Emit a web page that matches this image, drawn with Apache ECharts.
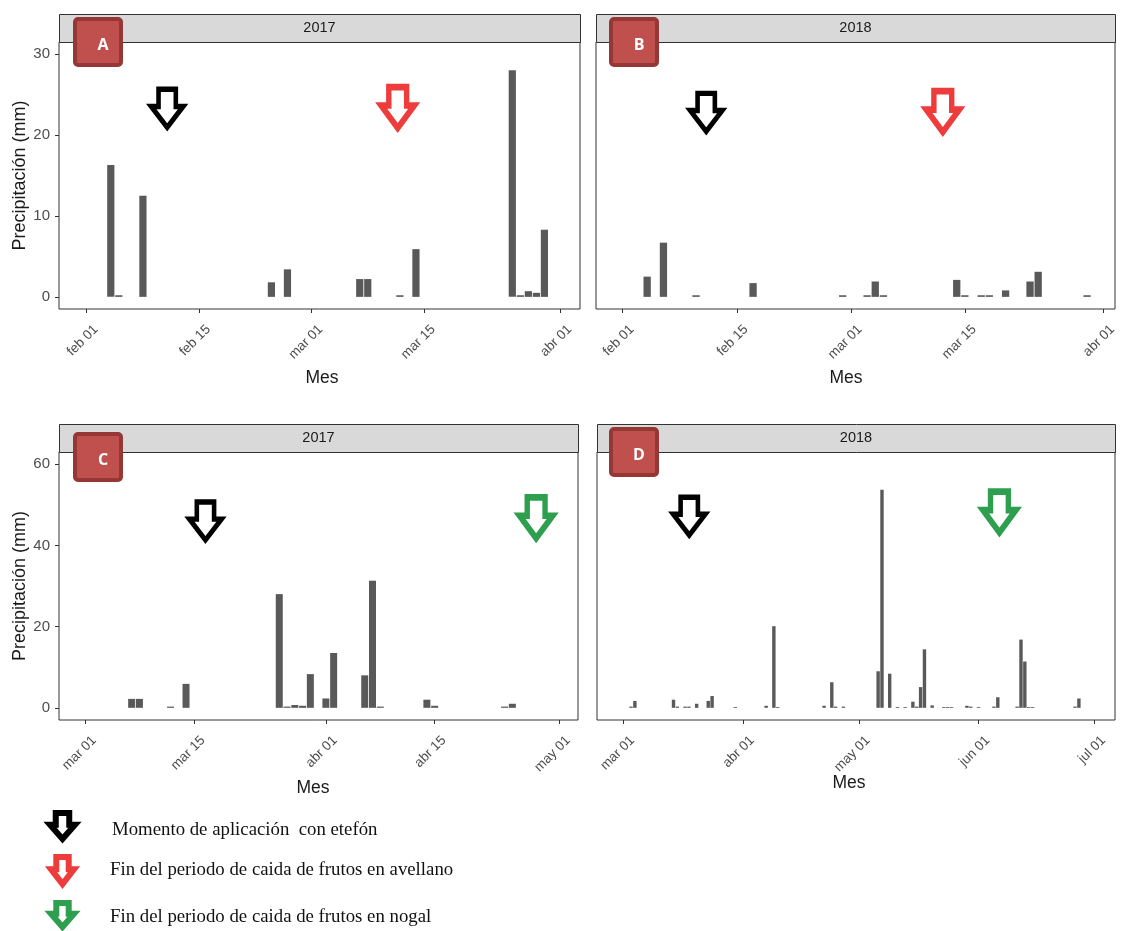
<!DOCTYPE html>
<html><head><meta charset="utf-8">
<script src="https://cdn.jsdelivr.net/npm/echarts@6/dist/echarts.min.js"></script>
<style>html,body{margin:0;padding:0;background:#fff}#c{width:1128px;height:931px}</style>
</head><body><div id="c"></div>
<script>
// ---------- data ----------
const monthNames = ['ene','feb','mar','abr','may','jun','jul','ago','sep','oct','nov','dic'];

const A_dates = ['2017-02-04','2017-02-05','2017-02-08','2017-02-24','2017-02-26','2017-03-07','2017-03-08','2017-03-12','2017-03-14','2017-03-26','2017-03-27','2017-03-28','2017-03-29','2017-03-30'];
const A_vals  = [16.3,0.2,12.5,1.8,3.4,2.2,2.2,0.2,5.9,28.0,0.2,0.7,0.5,8.3];

const B_dates = ['2018-02-04','2018-02-06','2018-02-10','2018-02-17','2018-02-28','2018-03-03','2018-03-04','2018-03-05','2018-03-14','2018-03-15','2018-03-17','2018-03-18','2018-03-20','2018-03-23','2018-03-24','2018-03-30'];
const B_vals  = [2.5,6.7,0.2,1.7,0.2,0.2,1.9,0.2,2.1,0.2,0.2,0.2,0.8,1.9,3.1,0.2];

const C_dates = ['2017-03-07','2017-03-08','2017-03-12','2017-03-14','2017-03-26','2017-03-27','2017-03-28','2017-03-29','2017-03-30','2017-04-01','2017-04-02','2017-04-06','2017-04-07','2017-04-08','2017-04-14','2017-04-15','2017-04-24','2017-04-25'];
const C_vals  = [2.2,2.2,0.3,5.9,28.0,0.3,0.7,0.5,8.3,2.3,13.5,8.0,31.3,0.3,2.0,0.5,0.3,1.0];

const D_dates = ['2018-03-03','2018-03-04','2018-03-14','2018-03-15','2018-03-17','2018-03-18','2018-03-20','2018-03-23','2018-03-24','2018-03-30','2018-04-07','2018-04-09','2018-04-10','2018-04-22','2018-04-24','2018-04-25','2018-04-27','2018-05-06','2018-05-07','2018-05-09','2018-05-11','2018-05-13','2018-05-15','2018-05-16','2018-05-17','2018-05-18','2018-05-20','2018-05-23','2018-05-24','2018-05-25','2018-05-29','2018-05-30','2018-06-01','2018-06-05','2018-06-06','2018-06-11','2018-06-12','2018-06-13','2018-06-14','2018-06-15','2018-06-26','2018-06-27'];
const D_vals  = [0.3,1.7,2.0,0.3,0.3,0.3,1.0,1.7,2.9,0.2,0.5,20.1,0.2,0.5,6.3,0.3,0.3,9.0,53.7,8.4,0.2,0.2,1.5,0.3,5.1,14.4,0.6,0.2,0.2,0.2,0.5,0.3,0.2,0.3,2.6,0.3,16.8,11.4,0.2,0.2,0.3,2.3];

const A_ticks = ['2017-02-01','2017-02-15','2017-03-01','2017-03-15','2017-04-01'];
const B_ticks = ['2018-02-01','2018-02-15','2018-03-01','2018-03-15','2018-04-01'];
const C_ticks = ['2017-03-01','2017-03-15','2017-04-01','2017-04-15','2017-05-01'];
const D_ticks = ['2018-03-01','2018-04-01','2018-05-01','2018-06-01','2018-07-01'];
const yTicksTop = [0,10,20,30];
const yTicksBottom = [0,20,40,60];

const stripTitles = ['2017','2018','2017','2018'];
const panelLetters = ['A','B','C','D'];

// annotation arrows: [date, height (mm), kind]
const A_arrows = [['2017-02-11 00:30', 23.3, 'black'], ['2017-03-11 17:30', 23.4, 'red']];
const B_arrows = [['2018-02-11 06:00', 22.8, 'black'], ['2018-03-12 07:00', 22.9, 'red']];
const C_arrows = [['2017-03-16 12:00', 46.0, 'black'], ['2017-04-28 01:30', 46.8, 'green']];
const D_arrows = [['2018-03-18 02:00', 47.2, 'black'], ['2018-06-06 10:00', 48.2, 'green']];

const legendTexts = ['Momento de aplicación  con etefón', 'Fin del periodo de caida de frutos en avellano', 'Fin del periodo de caida de frutos en nogal'];
const legendKinds = ['black','red','green'];

// ---------- helpers ----------
const DAY = 86400000;
function ts(s){
  const parts = s.split(' ');
  const [y,m,d] = parts[0].split('-').map(Number);
  let h=0, mi=0;
  if (parts[1]) { [h,mi] = parts[1].split(':').map(Number); }
  return new Date(y, m-1, d, h, mi).getTime();
}
function fmt(v){
  const d = new Date(v);
  return monthNames[d.getMonth()] + ' ' + String(d.getDate()).padStart(2,'0');
}
const SANS = "'Liberation Sans', Arial, sans-serif";
const arrowColors = {black:'#000000', red:'#EE3B3B', green:'#2E9E4F'};
const arrowPath = 'path://M23,0L77,0L77,45L100,45L50,100L0,45L23,45Z';

const panels = [
  {dates:A_dates, vals:A_vals, ticks:A_ticks, yt:yTicksTop, arrows:A_arrows,
   grid:{left:59, top:42, width:521, height:267}, x0:'2017-02-01', dmin:-3.45, dmax:61.43, ymin:-1.5, ymax:31.5, bw:7.2, ylab:true,
   box:{x:73, y:17}, mes:{x:322, y:378}},
  {dates:B_dates, vals:B_vals, ticks:B_ticks, yt:yTicksTop, arrows:B_arrows,
   grid:{left:596, top:42, width:519, height:267}, x0:'2018-02-01', dmin:-3.28, dmax:60.43, ymin:-1.5, ymax:31.5, bw:7.3, ylab:false,
   box:{x:609, y:17}, mes:{x:846, y:378}},
  {dates:C_dates, vals:C_vals, ticks:C_ticks, yt:yTicksBottom, arrows:C_arrows,
   grid:{left:59, top:452, width:519, height:268}, x0:'2017-03-01', dmin:-3.35, dmax:63.45, ymin:-3, ymax:63, bw:7.0, ylab:true,
   box:{x:73, y:432}, mes:{x:313, y:788}},
  {dates:D_dates, vals:D_vals, ticks:D_ticks, yt:yTicksBottom, arrows:D_arrows,
   grid:{left:597, top:452, width:518, height:268}, x0:'2018-03-01', dmin:-6.81, dmax:127.35, ymin:-3, ymax:63, bw:3.4, ylab:false,
   box:{x:609, y:427}, mes:{x:849, y:783}}
];

const grids = [], xAxes = [], yAxes = [], series = [], graphics = [];
const TXT = '#4D4D4D';

panels.forEach((p, i) => {
  grids.push(Object.assign({show:true, borderColor:'#333333', borderWidth:1, backgroundColor:'#ffffff', containLabel:false}, p.grid));
  const base = ts(p.x0);
  const tickVals = p.ticks.map(ts);
  xAxes.push({
    type:'value', gridIndex:i, position:'bottom', min: base + p.dmin*DAY, max: base + p.dmax*DAY,
    axisLine:{show:false, onZero:false},
    axisTick:{show:true, length:4, customValues:tickVals, lineStyle:{color:'#333333'}},
    axisLabel:{show:true, customValues:tickVals, rotate:45, margin:9, verticalAlign:'top', padding:[6,0,0,0],
      color:TXT, fontSize:13.5, fontFamily:SANS, formatter: fmt},
    splitLine:{show:false}
  });
  yAxes.push({
    type:'value', gridIndex:i, position:'left', min:p.ymin, max:p.ymax,
    name: p.ylab ? 'Precipitación (mm)' : '',
    nameLocation:'middle', nameGap:28,
    nameTextStyle:{fontSize:18, color:'#1A1A1A', fontFamily:SANS},
    axisLine:{show:false, onZero:false},
    axisTick:{show:p.ylab, length:4, customValues:p.yt, lineStyle:{color:'#333333'}},
    axisLabel:{show:p.ylab, customValues:p.yt, margin:9, color:TXT, fontSize:15, fontFamily:SANS},
    splitLine:{show:false}
  });
  series.push({
    type:'bar', xAxisIndex:i, yAxisIndex:i, barWidth:p.bw, silent:true,
    itemStyle:{color:'#595959'},
    data: p.dates.map((d,k) => [ts(d), p.vals[k]]),
    markPoint:{
      silent:true,
      data: p.arrows.map(a => ({
        coord:[ts(a[0]), a[1]], symbol:arrowPath,
        symbolSize: a[2]==='black' ? [32,38] : [33,41],
        itemStyle:{color:'#ffffff', borderColor:arrowColors[a[2]], borderWidth: a[2]==='black' ? 5 : 6, borderJoin:'miter'},
        label:{show:false}
      }))
    }
  });
  const g = p.grid;
  const stripH = 28;
  graphics.push({type:'rect', shape:{x:g.left+0.5, y:g.top-stripH+0.5, width:g.width, height:stripH}, style:{fill:'#D9D9D9', stroke:'#333333', lineWidth:1}, z:10});
  graphics.push({type:'text', x:g.left+g.width/2, y:g.top-stripH/2, style:{text:stripTitles[i], fill:'#1A1A1A', fontSize:14.5, fontFamily:SANS, align:'center', verticalAlign:'middle'}, z:11});
  graphics.push({type:'rect', shape:{x:p.box.x+2, y:p.box.y+2, width:46, height:46, r:3}, style:{fill:'#C0504D', stroke:'#953735', lineWidth:4}, z:20});
  graphics.push({type:'text', x:p.box.x+30, y:p.box.y+28, style:{text:panelLetters[i], fill:'#ffffff', fontSize:16, fontWeight:'bold', fontFamily:"'Open Sans', 'Liberation Sans', sans-serif", align:'center', verticalAlign:'middle'}, z:21});
  graphics.push({type:'text', x:p.mes.x, y:p.mes.y, style:{text:'Mes', fill:'#1A1A1A', fontSize:17.5, fontFamily:SANS, align:'center', verticalAlign:'middle'}, z:11});
});

function arrowPoly(x, y, w, h){
  const X = f => x + f*w, Y = f => y + f*h;
  return [[X(.23),Y(0)],[X(.77),Y(0)],[X(.77),Y(.45)],[X(1),Y(.45)],[X(.5),Y(1)],[X(0),Y(.45)],[X(.23),Y(.45)]];
}
const legendBoxes = [[50,813,25,26],[51,857,23,27],[51,903,23,24]];
const legendTextY = [830, 870, 917];
legendKinds.forEach((k, i) => {
  const b = legendBoxes[i];
  graphics.push({type:'polygon', shape:{points:arrowPoly(b[0],b[1],b[2],b[3])}, style:{fill:'#ffffff', stroke:arrowColors[k], lineWidth:6, lineJoin:'miter'}, z:20});
  graphics.push({type:'text', x: i===0 ? 112 : 110, y:legendTextY[i], style:{text:legendTexts[i], fill:'#111111', fontSize:18.8, fontFamily:"'Liberation Serif', 'Times New Roman', serif", verticalAlign:'middle'}, z:20});
});

const chart = echarts.init(document.getElementById('c'), null, {renderer:'canvas'});
chart.setOption({
  animation:false,
  backgroundColor:'#ffffff',
  grid:grids, xAxis:xAxes, yAxis:yAxes, series:series, graphic:graphics
});
</script>
</body></html>
